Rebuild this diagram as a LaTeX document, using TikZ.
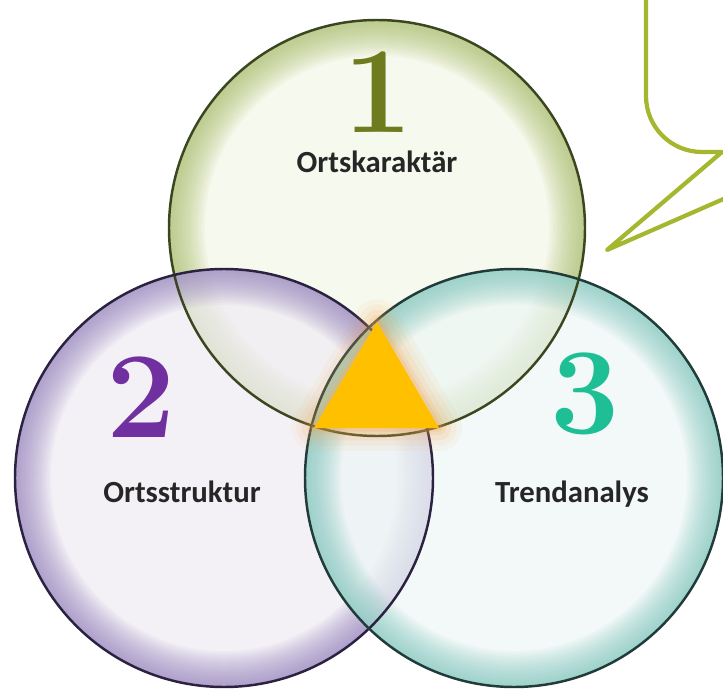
\documentclass[tikz,border=0pt]{standalone}
\usepackage{fontspec}
\newfontfamily\calib{Carlito}

\definecolor{gin}{HTML}{F3F6E6}
\definecolor{grim}{HTML}{A3BA62}
\definecolor{gline}{HTML}{3B4620}
\definecolor{pin}{HTML}{F0ECF3}
\definecolor{prim}{HTML}{8F7BBA}
\definecolor{pline}{HTML}{2B2140}
\definecolor{tin}{HTML}{EDF6F5}
\definecolor{trim}{HTML}{78C4BA}
\definecolor{tline}{HTML}{203B39}
\definecolor{one}{HTML}{6E7B1E}
\definecolor{two}{HTML}{7030A0}
\definecolor{three}{HTML}{1FBF95}
\definecolor{tri}{HTML}{FFC000}
\definecolor{glow}{HTML}{F7A24A}
\definecolor{bubble}{HTML}{A5B62F}

\begin{document}
\begin{tikzpicture}[
		x=0.02cm, y=-0.02cm,
		ball/.style={ circle, inner sep=0pt, minimum size=8.36cm, fill opacity=.72, },
		ring/.style={ line width=#1*0.567pt, opacity=.055, },
		num/.style={ font=\fontsize{70}{72}\selectfont\bfseries, anchor=base, },
		lbl/.style={ font=\calib\fontsize{17.5}{20}\selectfont\bfseries, text=black!85, anchor=base, },
		]
		\useasboundingbox (0,0) rectangle (723,689);
		\clip (0,0) rectangle (723,689);
		
		% the three circles, pale inside and darker at the rim
		\node[ball, fill=gin, minimum size=8.32cm] (kar) at (377,228) {};
		\foreach \w in {2,4,...,36}
			\draw[grim, ring=\w] (kar.center) circle (208-\w/2);
		\node[ball, fill=pin] (str) at (224,478) {};
		\foreach \w in {2,4,...,36}
			\draw[prim, ring=\w] (str.center) circle (209-\w/2);
		\node[ball, fill=tin] (trend) at (514,478) {};
		\foreach \w in {2,4,...,36}
			\draw[trim, ring=\w] (trend.center) circle (209-\w/2);
		\draw[gline, line width=1.4pt] (kar.center) circle (208);
		\draw[pline, line width=1.4pt] (str.center) circle (209);
		\draw[tline, line width=1.4pt] (trend.center) circle (209);
		
		% triangle in the middle
		\coordinate (apex) at (377,322);
		\coordinate (bl) at (314,428);
		\coordinate (br) at (439,428);
		\foreach \w/\o in {26/.06,20/.08,14/.1,8/.14,4/.2}
			\draw[glow, line width=\w pt, line join=round, opacity=\o] (apex) -- (bl) -- (br) -- cycle;
		\fill[tri] (apex) -- (bl) -- (br) -- cycle;
		
		\node[num, text=one] (n1) at (378,133) {1};
		\node[lbl] (l1) at (377,173) {Ortskaraktär};
		\node[num, text=two] (n2) at (141,437) {2};
		\node[lbl] (l2) at (182,502) {Ortsstruktur};
		\node[num, text=three] (n3) at (585,433) {3};
		\node[lbl] (l3) at (572,502) {Trendanalys};
		
		% callout
		\draw[bubble, line width=2.4pt, line join=round] (646,-10) -- (646,96) to[out=-90,in=180] (702,152) -- (722,152) -- (607,250) -- (760,183);
	\end{tikzpicture}
\end{document}
